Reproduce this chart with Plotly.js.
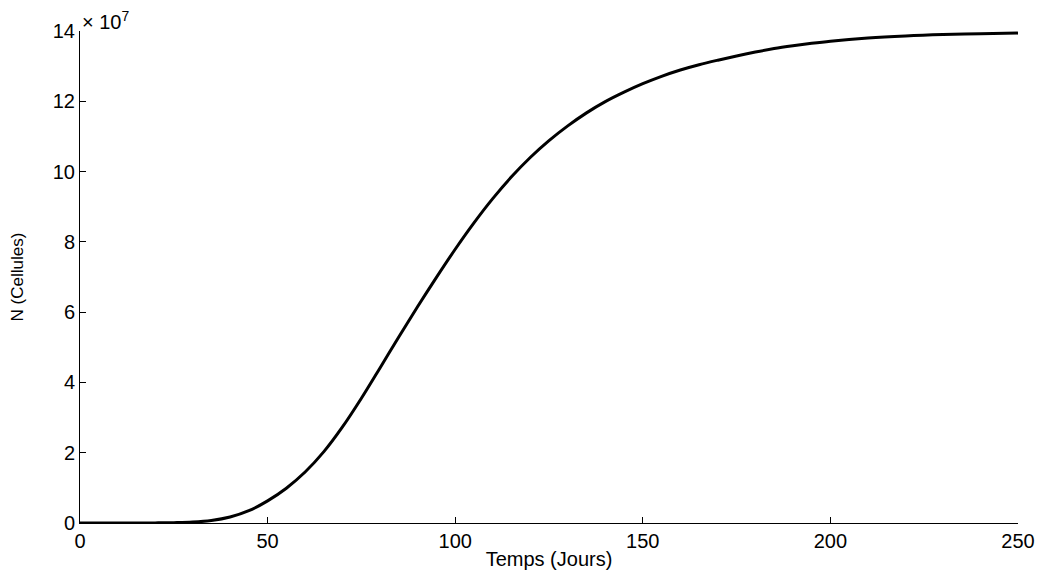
<!DOCTYPE html>
<html>
<head>
<meta charset="utf-8">
<script src="https://cdn.plot.ly/plotly-3.0.1.min.js"></script>
<style>
  html, body { margin: 0; padding: 0; background: #fff; }
  #chart { width: 1045px; height: 572px; }
</style>
</head>
<body>
<div id="chart"></div>
<script>
// Time in days
const temps = [0, 5, 10, 15, 20, 25, 30, 35, 40, 45, 50, 55, 60, 65, 70, 75, 80, 85, 90, 95,
               100, 105, 110, 115, 120, 125, 130, 135, 140, 145, 150, 155, 160, 165, 170, 175,
               180, 185, 190, 195, 200, 210, 220, 230, 240, 250];
// Number of cells, in units of 1e7
const cellules = [0, 0.0002, 0.0005, 0.0012, 0.003, 0.009, 0.025, 0.07, 0.17, 0.35, 0.63, 0.99, 1.45, 2.03, 2.74, 3.55, 4.42, 5.3, 6.16, 6.99,
                  7.79, 8.54, 9.23, 9.85, 10.4, 10.88, 11.3, 11.67, 11.99, 12.26, 12.5, 12.71, 12.89, 13.04, 13.17, 13.29,
                  13.4, 13.5, 13.58, 13.65, 13.71, 13.8, 13.86, 13.9, 13.925, 13.94];
const xTicks = [0, 50, 100, 150, 200, 250];
const yTicks = [0, 2, 4, 6, 8, 10, 12, 14];

const font = 'Liberation Sans, Arial, sans-serif';

const trace = {
  x: temps,
  y: cellules,
  type: 'scatter',
  mode: 'lines',
  line: { color: '#000', width: 3, shape: 'spline', smoothing: 1 },
  hoverinfo: 'x+y'
};

const layout = {
  width: 1045,
  height: 572,
  margin: { l: 80, r: 27, t: 31, b: 49 },
  paper_bgcolor: '#fff',
  plot_bgcolor: '#fff',
  showlegend: false,
  font: { family: font, size: 19, color: '#000' },
  xaxis: {
    range: [0, 250],
    tickvals: xTicks,
    ticktext: xTicks.map(String),
    ticks: 'inside',
    ticklen: 6,
    tickcolor: '#000',
    tickwidth: 1,
    showline: true,
    linecolor: '#000',
    linewidth: 1,
    showgrid: false,
    zeroline: false,
    mirror: false,
    tickfont: { family: font, size: 20, color: '#000' },
    title: { text: 'Temps (Jours)', font: { family: font, size: 20, color: '#000' }, standoff: 0 },
    automargin: false
  },
  yaxis: {
    range: [0, 14],
    tickvals: yTicks,
    ticktext: yTicks.map(String),
    ticks: 'inside',
    ticklen: 6,
    tickcolor: '#000',
    tickwidth: 1,
    showline: true,
    linecolor: '#000',
    linewidth: 1,
    showgrid: false,
    zeroline: false,
    mirror: false,
    tickfont: { family: font, size: 20, color: '#000' },
    title: { text: 'N (Cellules)', font: { family: font, size: 17, color: '#000' }, standoff: 24 },
    automargin: false
  },
  annotations: [{
    xref: 'paper', yref: 'paper', x: 0, y: 1,
    xanchor: 'left', yanchor: 'bottom',
    text: '× 10<sup>7</sup>',
    showarrow: false,
    font: { family: font, size: 20, color: '#000' },
    yshift: -4
  }]
};

Plotly.newPlot('chart', [trace], layout, { displayModeBar: false, staticPlot: true });
</script>
</body>
</html>
